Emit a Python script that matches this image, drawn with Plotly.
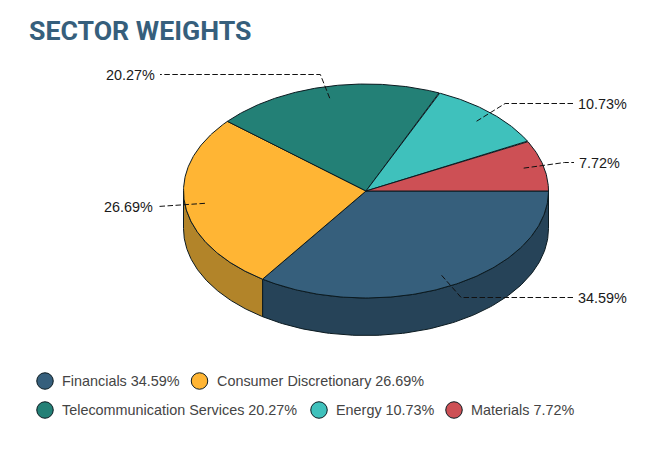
import numpy as np
import plotly.graph_objects as go

categories = ["Financials", "Consumer Discretionary", "Telecommunication Services", "Energy", "Materials"]
weights = [34.59, 26.69, 20.27, 10.73, 7.72]
top_colors = ["#365f7c", "#ffb534", "#238076", "#3fc1bc", "#cd5055"]
side_colors = ["#264358", "#b28429", "#185a53", "#2c8784", "#90383c"]
title_text = "SECTOR WEIGHTS"

W, H = 660, 451
CX, CY, RX, RY, DEPTH = 366, 191, 182.5, 107, 37.5
INNER, OUTER = 0.89, 1.12
OUTLINE = "#0b1a20"
LABEL_RIGHT_END, LABEL_LEFT_END = 573, 160
LABEL_NUDGE = [0, -2, 0, 0, 1]

total = sum(weights)
fig = go.Figure()


def pt(t, r=1.0, dy=0.0):
    return CX + r * RX * np.cos(t), CY + r * RY * np.sin(t) + dy


starts = np.cumsum([0] + weights[:-1]) / total * 2 * np.pi
ends = np.cumsum(weights) / total * 2 * np.pi

# side walls (only the front half of the disc is visible)
for i, (a, b) in enumerate(zip(starts, ends)):
    lo, hi = max(a, 0), min(b, np.pi)
    if hi <= lo:
        continue
    t = np.linspace(lo, hi, 120)
    x1, y1 = pt(t)
    x2, y2 = pt(t[::-1], dy=DEPTH)
    fig.add_trace(go.Scatter(
        x=np.r_[x1, x2, x1[0]], y=np.r_[y1, y2, y1[0]], mode="lines", fill="toself",
        fillcolor=side_colors[i], line=dict(color=OUTLINE, width=1), hoverinfo="skip", showlegend=False))

# top faces
for i, (a, b) in enumerate(zip(starts, ends)):
    t = np.linspace(a, b, 160)
    x, y = pt(t)
    fig.add_trace(go.Scatter(
        x=np.r_[CX, x, CX], y=np.r_[CY, y, CY], mode="lines", fill="toself",
        fillcolor=top_colors[i], line=dict(color=OUTLINE, width=1),
        name=categories[i], text=f"{categories[i]} {weights[i]:.2f}%", hoverinfo="text", showlegend=False))

# connectors and labels
annotations = []
for i, (a, b) in enumerate(zip(starts, ends)):
    m = (a + b) / 2
    right = np.cos(m) > 0
    x0, y0 = pt(m, INNER)
    x1, y1 = pt(m, OUTER)
    y1 = np.floor(y1) + 0.5  # keep the horizontal leader crisp
    xe = (LABEL_RIGHT_END if right else LABEL_LEFT_END) + LABEL_NUDGE[i]
    fig.add_trace(go.Scatter(
        x=[x0, x1, xe], y=[y0, y1, y1], mode="lines",
        line=dict(color="#111111", width=1, dash="5.5px,2.5px"), hoverinfo="skip", showlegend=False))
    annotations.append(dict(
        x=xe + (3 if right else -3), y=y1 + 0.5, text=f"{weights[i]:.2f}%", showarrow=False,
        xanchor="left" if right else "right", yanchor="middle",
        font=dict(family="Liberation Sans", size=14.4, color="#1a1a1a")))

# legend
legend_rows = [(45, 381, 0), (199.5, 381, 1), (45, 410, 2), (319, 410, 3), (454, 410, 4)]
for mx, my, i in legend_rows:
    fig.add_trace(go.Scatter(
        x=[mx], y=[my], mode="markers",
        marker=dict(size=16.5, color=top_colors[i], line=dict(color=OUTLINE, width=1)),
        hoverinfo="skip", showlegend=False))
    annotations.append(dict(
        x=mx + 15, y=my, text=f"{categories[i]} {weights[i]:.2f}%", showarrow=False,
        xanchor="left", yanchor="middle",
        font=dict(family="Liberation Sans", size=14.4, color="#444444")))

annotations.append(dict(
    x=27, y=31, text=f"<b>{title_text}</b>", showarrow=False, xanchor="left", yanchor="middle",
    font=dict(family="Roboto", size=26.7, color="#365f7c")))

fig.update_layout(
    width=W, height=H, margin=dict(l=0, r=0, t=0, b=0),
    paper_bgcolor="white", plot_bgcolor="white", annotations=annotations,
    xaxis=dict(range=[0, W], visible=False, fixedrange=True),
    yaxis=dict(range=[H, 0], visible=False, fixedrange=True),
)
fig.write_html("out.html", post_script="document.body.style.margin='0';",
               config=dict(displayModeBar=False))
